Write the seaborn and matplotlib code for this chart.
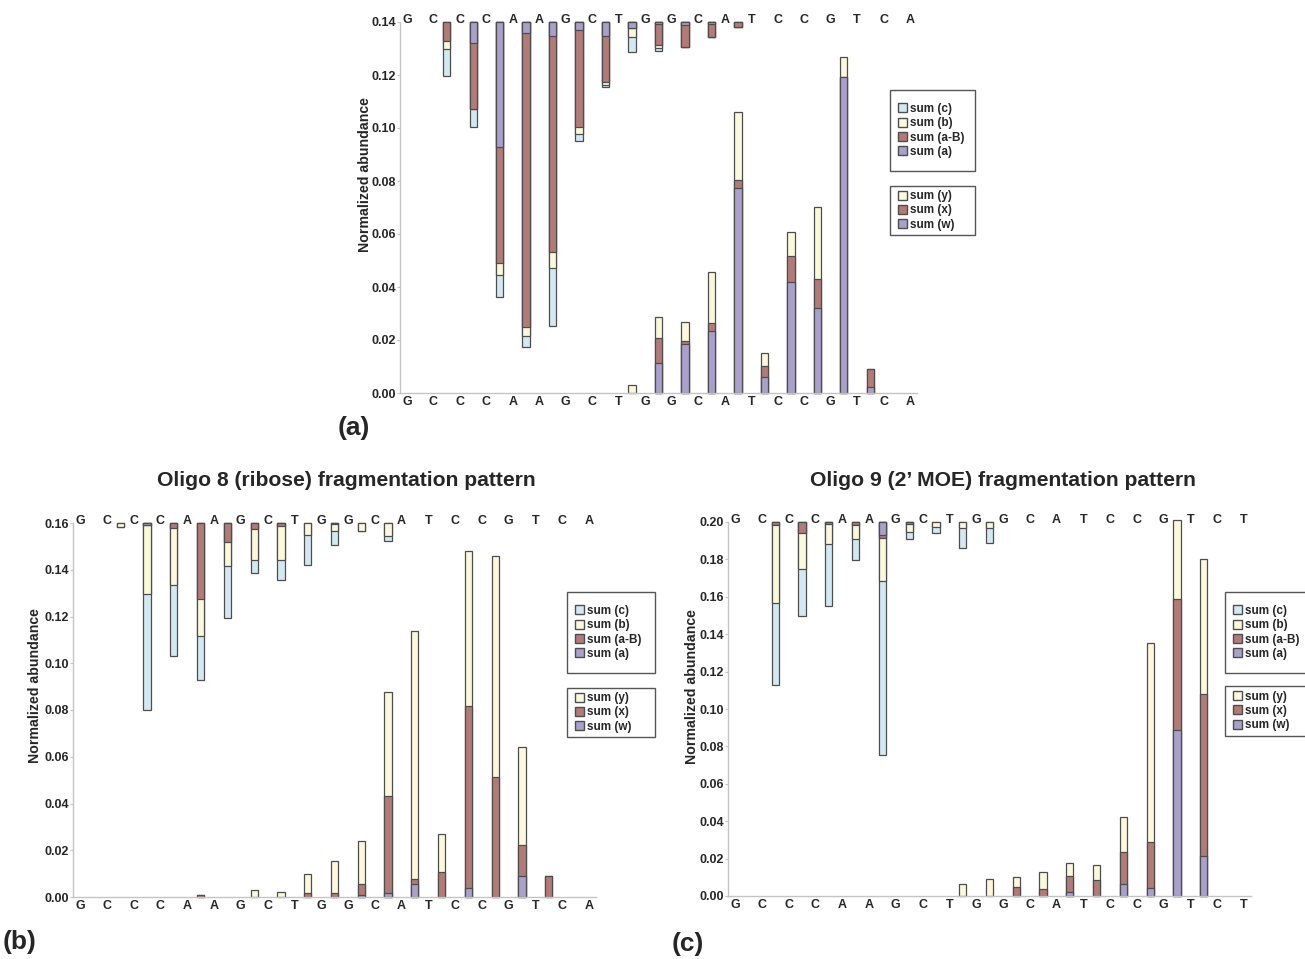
import numpy as np
import pandas as pd
import seaborn as sns
import matplotlib.pyplot as plt
from matplotlib.patches import Patch, Rectangle

# Sequences (x labels) and gap ids (bars sit between two bases)
SEQ_AB = ["G", "C", "C", "C", "A", "A", "G", "C", "T", "G", "G", "C", "A", "T", "C", "C", "G", "T", "C", "A"]
SEQ_C = ["G", "C", "C", "C", "A", "A", "G", "C", "T", "G", "G", "C", "A", "T", "C", "C", "G", "T", "C", "T"]
GAPS = [f"g{i:02d}" for i in range(19)]

# ---- panel (a): hanging stacks (from top: a, a-B, b, c) ----
a_sum_a = [0, 0, 0.008, 0.0471, 0.004, 0.0052, 0.0032, 0.0051, 0.0023, 0.0008, 0.0013, 0.0008, 0, 0, 0, 0, 0, 0, 0]
a_sum_aB = [0, 0.0071, 0.0249, 0.0439, 0.1111, 0.0815, 0.0364, 0.0176, 0, 0.0079, 0.008, 0.0049, 0.002, 0, 0, 0, 0, 0, 0]
a_sum_b = [0, 0.0032, 0, 0.0044, 0.0033, 0.0062, 0.0028, 0.001, 0.0032, 0.001, 0, 0, 0, 0, 0, 0, 0, 0, 0]
a_sum_c = [0, 0.0101, 0.0066, 0.0085, 0.0041, 0.0217, 0.0026, 0.0009, 0.006, 0.0013, 0, 0, 0, 0, 0, 0, 0, 0, 0]
# rising stacks (from bottom: w, x, y)
a_sum_w = [0, 0, 0, 0, 0, 0, 0, 0, 0, 0.0112, 0.0185, 0.0235, 0.0772, 0.0061, 0.0419, 0.032, 0.1192, 0.0023, 0]
a_sum_x = [0, 0, 0, 0, 0, 0, 0, 0, 0, 0.0095, 0.001, 0.0029, 0.0032, 0.004, 0.0098, 0.0109, 0, 0.0067, 0]
a_sum_y = [0, 0, 0, 0, 0, 0, 0, 0, 0.003, 0.008, 0.0073, 0.0194, 0.0257, 0.0049, 0.0089, 0.0274, 0.0077, 0, 0]

# ---- panel (b): Oligo 8 (ribose) ----
b_sum_a = [0, 0, 0.0009, 0, 0, 0, 0, 0, 0, 0, 0, 0, 0, 0, 0, 0, 0, 0, 0]
b_sum_aB = [0, 0, 0, 0.0023, 0.0323, 0.008, 0.0026, 0.0014, 0, 0.0004, 0, 0, 0, 0, 0, 0, 0, 0, 0]
b_sum_b = [0, 0.0018, 0.0293, 0.0244, 0.0159, 0.0104, 0.0133, 0.0145, 0.0052, 0.0029, 0.0036, 0.0057, 0, 0, 0, 0, 0, 0, 0]
b_sum_c = [0, 0, 0.0498, 0.0302, 0.019, 0.0222, 0.0056, 0.0086, 0.0127, 0.0062, 0, 0.0019, 0, 0, 0, 0, 0, 0, 0]
b_sum_w = [0, 0, 0, 0, 0, 0, 0, 0, 0, 0, 0.0009, 0.0019, 0.0054, 0, 0.004, 0, 0.009, 0, 0]
b_sum_x = [0, 0, 0, 0, 0.0007, 0, 0, 0, 0.0019, 0.0016, 0.0045, 0.0412, 0.0022, 0.0109, 0.0779, 0.0514, 0.0133, 0.009, 0]
b_sum_y = [0, 0, 0, 0, 0, 0, 0.0029, 0.0023, 0.0081, 0.0137, 0.0185, 0.0448, 0.106, 0.016, 0.0662, 0.0945, 0.042, 0, 0]

# ---- panel (c): Oligo 9 (2' MOE) ----
c_sum_a = [0, 0, 0, 0, 0, 0.0069, 0, 0, 0, 0, 0, 0, 0, 0, 0, 0, 0, 0, 0]
c_sum_aB = [0, 0.0018, 0.0057, 0.0011, 0.0015, 0.0019, 0.0011, 0, 0, 0, 0, 0, 0, 0, 0, 0, 0, 0, 0]
c_sum_b = [0, 0.0417, 0.0195, 0.0104, 0.0078, 0.0228, 0.004, 0.0029, 0.0033, 0.003, 0, 0, 0, 0, 0, 0, 0, 0, 0]
c_sum_c = [0, 0.0438, 0.025, 0.0334, 0.011, 0.0928, 0.0042, 0.0031, 0.0106, 0.008, 0, 0, 0, 0, 0, 0, 0, 0, 0]
c_sum_w = [0, 0, 0, 0, 0, 0, 0, 0, 0, 0, 0, 0, 0.0021, 0, 0.0066, 0.0043, 0.089, 0.0212, 0]
c_sum_x = [0, 0, 0, 0, 0, 0, 0, 0, 0, 0, 0.0048, 0.0039, 0.0086, 0.0087, 0.0169, 0.0245, 0.0699, 0.087, 0]
c_sum_y = [0, 0, 0, 0, 0, 0, 0, 0, 0.0066, 0.0093, 0.0052, 0.0089, 0.0069, 0.008, 0.0187, 0.1067, 0.042, 0.0721, 0]

# Colours
PURPLE = "#a9a0cc"
BROWN = "#b27b78"
CREAM = "#fcf8dc"
BLUE = "#d3e9f2"
EDGE = "#4d4d4d"
AXIS_GREY = "#c4c4c4"

sns.set_style("white")
plt.rcParams["font.family"] = ["Liberation Sans", "DejaVu Sans"]
plt.rcParams["font.weight"] = "bold"

fig = plt.figure(figsize=(13.05, 9.59), dpi=100)
W, H = 1305, 959


def stack(ax, layers, colors):
    # layers listed from the baseline outward; draw cumulative bars largest first
    cum = np.cumsum(np.array(layers, dtype=float), axis=0)
    for lvl in range(len(layers) - 1, -1, -1):
        vals = np.where(cum[lvl] > 0, cum[lvl], np.nan)
        df = pd.DataFrame({"gap": GAPS, "val": vals}).dropna()
        if df.empty:
            continue
        sns.barplot(data=df, x="gap", y="val", order=GAPS, color=colors[lvl],
                    saturation=1, width=0.27, edgecolor=EDGE, linewidth=0.9,
                    errorbar=None, clip_on=False, ax=ax)


def panel(rect, seq, ymax, top_layers, bottom_layers, label_x, label_y):
    left, top, right, bottom = rect
    ax = fig.add_axes([left / W, 1 - bottom / H, (right - left) / W, (bottom - top) / H])
    stack(ax, bottom_layers, [PURPLE, BROWN, CREAM])
    ax_top = ax.twinx()
    stack(ax_top, top_layers, [PURPLE, BROWN, CREAM, BLUE])

    ax.set_xlim(-0.76, 18.76)
    ax.set_ylim(0, ymax)
    ax_top.set_ylim(ymax, 0)
    ax_top.set_yticks([])
    ax_top.set_ylabel("")
    for sp in ax_top.spines.values():
        sp.set_visible(False)

    pos = np.arange(20) - 0.5
    ax.set_xticks(pos)
    ax.set_xticklabels(seq)
    ax.set_xlabel("")
    yt = np.arange(0, ymax + 1e-9, 0.02)
    ax.set_yticks(yt)
    ax.set_yticklabels([f"{v:.2f}" for v in yt])
    ax.tick_params(axis="x", length=2, color=AXIS_GREY, labelsize=9, pad=0.5)
    ax.tick_params(axis="y", length=2, color=AXIS_GREY, labelsize=9, pad=1)
    for lab in ax.get_xticklabels() + ax.get_yticklabels():
        lab.set_fontweight("bold")

    # base letters along the top edge
    sec = ax.secondary_xaxis("top")
    sec.set_xticks(pos)
    sec.set_xticklabels(seq, fontsize=9, fontweight="bold")
    sec.tick_params(length=0, pad=-3)
    sec.spines["top"].set_visible(False)

    for side in ["top", "right"]:
        ax.spines[side].set_visible(False)
    for side in ["left", "bottom"]:
        ax.spines[side].set_color(AXIS_GREY)
        ax.spines[side].set_linewidth(1.0)

    ax.set_ylabel("Normalized abundance", fontsize=10.2, fontweight="bold")
    ax.yaxis.set_label_coords(label_x, label_y)
    return ax


def legends(ax, x0, x1, box1, box2):
    kw = dict(frameon=False, prop={"size": 8.5, "weight": "bold"}, handlelength=0.75,
              handleheight=0.8, handletextpad=0.25, labelspacing=0.2,
              borderpad=0, borderaxespad=0, loc="center left",
              bbox_transform=fig.transFigure)
    h1 = [Patch(facecolor=BLUE, edgecolor=EDGE, label="sum (c)"),
          Patch(facecolor=CREAM, edgecolor=EDGE, label="sum (b)"),
          Patch(facecolor=BROWN, edgecolor=EDGE, label="sum (a-B)"),
          Patch(facecolor=PURPLE, edgecolor=EDGE, label="sum (a)")]
    h2 = [Patch(facecolor=CREAM, edgecolor=EDGE, label="sum (y)"),
          Patch(facecolor=BROWN, edgecolor=EDGE, label="sum (x)"),
          Patch(facecolor=PURPLE, edgecolor=EDGE, label="sum (w)")]
    for handles, (ya, yb), first in [(h1, box1, True), (h2, box2, False)]:
        fig.add_artist(Rectangle((x0 / W, 1 - yb / H), (x1 - x0) / W, (yb - ya) / H,
                                 transform=fig.transFigure, facecolor="none",
                                 edgecolor="#555555", linewidth=1.0))
        leg = ax.legend(handles=handles,
                        bbox_to_anchor=((x0 + 8) / W, 1 - (ya + yb) / 2 / H), **kw)
        if first:
            ax.add_artist(leg)


ax_a = panel((400, 22, 917, 393), SEQ_AB, 0.14,
             [a_sum_a, a_sum_aB, a_sum_b, a_sum_c], [a_sum_w, a_sum_x, a_sum_y], -0.054, 0.59)
legends(ax_a, 890, 975, (90, 171), (186, 235))

ax_b = panel((73, 523, 596, 897), SEQ_AB, 0.16,
             [b_sum_a, b_sum_aB, b_sum_b, b_sum_c], [b_sum_w, b_sum_x, b_sum_y], -0.059, 0.565)
legends(ax_b, 567, 655, (592, 673), (688, 737))

ax_c = panel((728, 522, 1251, 896), SEQ_C, 0.20,
             [c_sum_a, c_sum_aB, c_sum_b, c_sum_c], [c_sum_w, c_sum_x, c_sum_y], -0.055, 0.56)
legends(ax_c, 1225, 1312, (592, 673), (686, 736))

fig.text(346 / W, 1 - 480 / H, "Oligo 8 (ribose) fragmentation pattern",
         ha="center", va="center", fontsize=15.2, fontweight="bold")
fig.text(1003 / W, 1 - 480 / H, "Oligo 9 (2\u2019 MOE) fragmentation pattern",
         ha="center", va="center", fontsize=15.2, fontweight="bold")

fig.text(354 / W, 1 - 428 / H, "(a)", ha="center", va="center", fontsize=19, fontweight="bold")
fig.text(20 / W, 1 - 942 / H, "(b)", ha="center", va="center", fontsize=19, fontweight="bold")
fig.text(688 / W, 1 - 944 / H, "(c)", ha="center", va="center", fontsize=19, fontweight="bold")

fig.savefig("out.png", dpi=100)
